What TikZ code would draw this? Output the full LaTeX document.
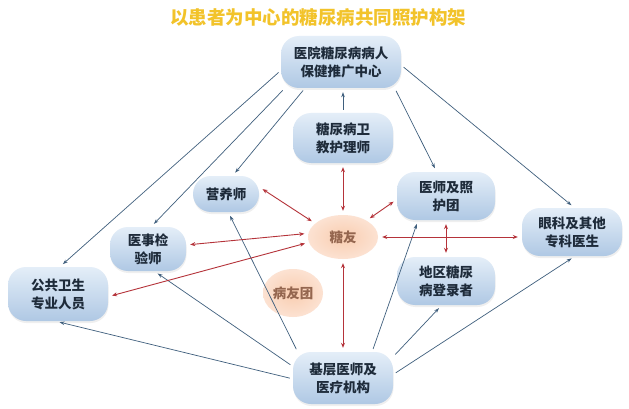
\documentclass[tikz,border=0pt]{standalone}
\usepackage{fontspec}
\setmainfont{Noto Sans CJK SC}
\usetikzlibrary{arrows.meta,shapes.geometric,shadows}
\definecolor{boxtop}{HTML}{E4EEF8}
\definecolor{boxbot}{HTML}{AFC8E4}
\definecolor{boxtext}{HTML}{1E2B3A}
\definecolor{peachin}{HTML}{F9CDB0}
\definecolor{peachout}{HTML}{FCE2D2}
\definecolor{peachtext}{HTML}{94664F}
\definecolor{linkblue}{HTML}{3F5F7D}
\definecolor{carered}{HTML}{B5333A}
\definecolor{titlegold}{HTML}{F2C32A}

\begin{document}
\begin{tikzpicture}[x=1pt,y=-1pt,
    staff/.style={rounded corners=18pt, top color=boxtop, bottom color=boxbot,
      text=boxtext, align=center, inner sep=0pt,
      font=\bfseries\fontsize{13.5}{18}\selectfont,
      drop shadow={opacity=0.12, shadow xshift=0.5pt, shadow yshift=-2pt}},
    patient/.style={ellipse, inner color=peachin, outer color=peachout,
      text=peachtext, inner sep=0pt, font=\bfseries\fontsize{13.5}{18}\selectfont},
    link/.style={draw=linkblue, line width=0.7pt, -{Stealth[length=5pt,width=3.5pt]},
      shorten >=4pt, shorten <=3pt},
    care/.style={draw=carered, line width=0.9pt,
      {Stealth[length=5pt,width=4pt]}-{Stealth[length=5pt,width=4pt]},
      shorten >=4pt, shorten <=4pt}]
  \fill[white] (0,0) rectangle (629,409);
  \useasboundingbox (0,0) rectangle (629,409);

  \node[text=titlegold, font=\bfseries\fontsize{18.5}{22}\selectfont] (title) at (318,17)
    {以患者为中心的糖尿病共同照护构架};

  \node[staff, minimum width=120, minimum height=52] (yiyuan) at (341,62) {医院糖尿病病人\\保健推广中心};
  \node[staff, minimum width=100, minimum height=50] (weijiao) at (343,138) {糖尿病卫\\教护理师};
  \node[staff, minimum width=66, minimum height=36] (yingyang) at (226,194) {营养师};
  \node[staff, minimum width=76, minimum height=44] (jianyan) at (148,249) {医事检\\验师};
  \node[staff, minimum width=100, minimum height=54] (gonggong) at (58,294) {公共卫生\\专业人员};
  \node[staff, minimum width=98, minimum height=48] (zhaohu) at (446,196) {医师及照\\护团};
  \node[staff, minimum width=100, minimum height=48] (yanke) at (572,232) {眼科及其他\\专科医生};
  \node[staff, minimum width=98, minimum height=48] (dengji) at (446,281) {地区糖尿\\病登录者};
  \node[staff, minimum width=100, minimum height=52] (jiceng) at (343,378) {基层医师及\\医疗机构};
  \node[patient, minimum width=70, minimum height=44] (tangyou) at (343,237) {糖友};
  \node[patient, minimum width=60, minimum height=48] (bingyou) at (293,293) {病友团};

  \draw[link] (yiyuan.188) -- (gonggong.86);
  \draw[link] (yiyuan.205) -- (jianyan.82);
  \draw[link] (yiyuan.216) -- (yingyang.70);
  \draw[link] (weijiao.north) -- (yiyuan.south -| weijiao.north);
  \draw[link] (yiyuan.334) -- (zhaohu.111);
  \draw[link] (yiyuan.357) -- (yanke.84);

  \draw[link] (jiceng.181) -- (gonggong.265);
  \draw[link] (jiceng.167) -- (jianyan.286);
  \draw[link] (jiceng.150) -- (yingyang.277);
  \draw[link] (jiceng.42) -- (zhaohu.221);
  \draw[link] (jiceng.23) -- (dengji.260);
  \draw[link] (jiceng.4) -- (yanke.277);

  \draw[care] (tangyou.north) -- (weijiao.south);
  \draw[care] (tangyou.154) -- (yingyang.12);
  \draw[care] (tangyou.174) -- (jianyan.6);
  \draw[care] (tangyou.189) -- (gonggong.357);
  \draw[care] (tangyou.35) -- (zhaohu.184);
  \draw[care] (tangyou.east) -- (tangyou.east -| yanke.west);
  \draw[care] (zhaohu.south) -- (dengji.north);
  \draw[care] (tangyou.south) -- (jiceng.north);
\end{tikzpicture}
\end{document}
